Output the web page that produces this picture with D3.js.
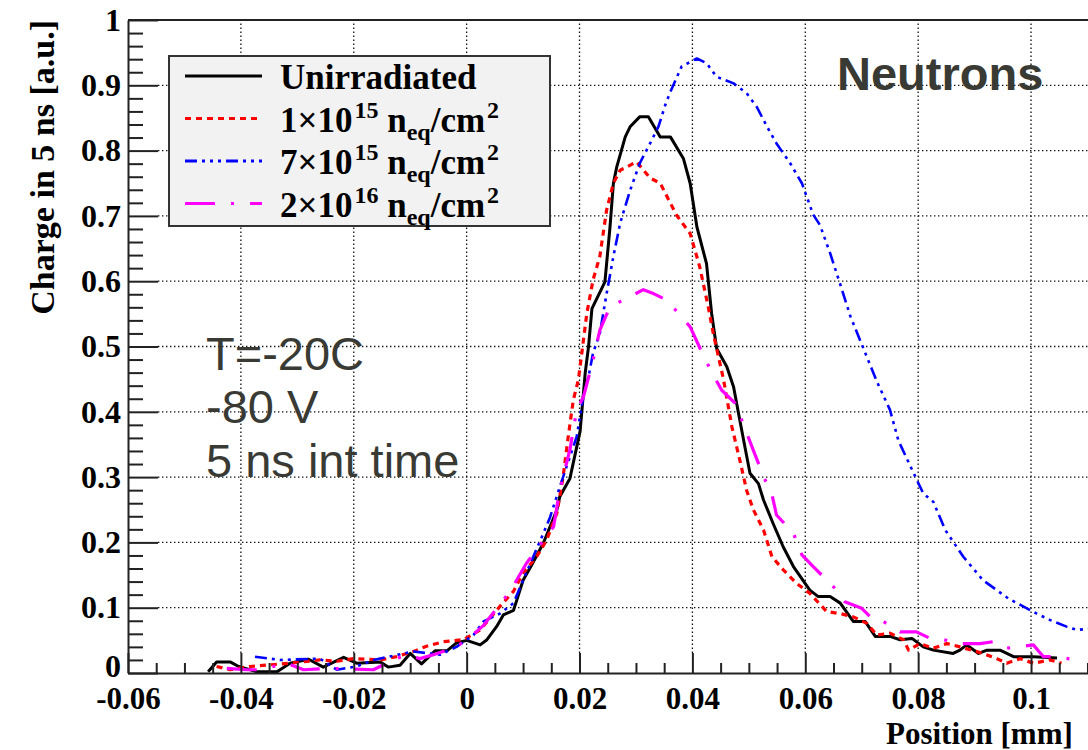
<!DOCTYPE html>
<html>
<head>
<meta charset="utf-8">
<script src="https://cdn.jsdelivr.net/npm/d3@7"></script>
<style>
body { margin: 0; background: #fff; }
</style>
</head>
<body>
<div id="chart"></div>
<script>
// ---- data: [position (mm), charge (a.u.)] ----
var unirradiated = [[-0.0458,0.002],[-0.0443,0.017],[-0.0419,0.017],[-0.0404,0.010],[-0.0372,0.002],[-0.0336,0.002],[-0.0313,0.015],[-0.0280,0.021],[-0.0254,0.009],[-0.0218,0.024],[-0.0195,0.015],[-0.0153,0.017],[-0.0139,0.009],[-0.0118,0.012],[-0.0100,0.030],[-0.0080,0.014],[-0.0056,0.034],[-0.0035,0.034],[-0.0018,0.046],[0.0000,0.050],[0.0024,0.043],[0.0036,0.051],[0.0053,0.071],[0.0065,0.089],[0.0083,0.096],[0.0089,0.112],[0.0100,0.142],[0.0115,0.165],[0.0136,0.199],[0.0160,0.250],[0.0165,0.270],[0.0183,0.298],[0.0201,0.370],[0.0210,0.459],[0.0216,0.500],[0.0222,0.558],[0.0245,0.599],[0.0254,0.683],[0.0260,0.750],[0.0266,0.775],[0.0281,0.821],[0.0290,0.837],[0.0307,0.852],[0.0322,0.852],[0.0343,0.821],[0.0361,0.821],[0.0384,0.788],[0.0396,0.750],[0.0408,0.683],[0.0425,0.627],[0.0434,0.551],[0.0443,0.497],[0.0461,0.469],[0.0473,0.438],[0.0484,0.387],[0.0502,0.306],[0.0517,0.290],[0.0526,0.265],[0.0543,0.229],[0.0561,0.193],[0.0579,0.163],[0.0608,0.127],[0.0623,0.117],[0.0644,0.117],[0.0662,0.107],[0.0685,0.079],[0.0706,0.079],[0.0724,0.056],[0.0750,0.056],[0.0768,0.051],[0.0789,0.053],[0.0809,0.040],[0.0827,0.035],[0.0862,0.030],[0.0874,0.035],[0.0886,0.043],[0.0907,0.030],[0.0922,0.035],[0.0945,0.035],[0.0969,0.025],[0.1004,0.025],[0.1046,0.023]];

var neq1e15 = [[-0.0443,0.010],[-0.0419,0.005],[-0.0384,0.010],[-0.0313,0.015],[-0.0260,0.020],[-0.0230,0.018],[-0.0201,0.022],[-0.0153,0.020],[-0.0124,0.025],[-0.0094,0.033],[-0.0071,0.041],[-0.0041,0.048],[-0.0006,0.051],[0.0024,0.066],[0.0059,0.102],[0.0083,0.125],[0.0100,0.153],[0.0124,0.178],[0.0142,0.204],[0.0160,0.245],[0.0171,0.301],[0.0180,0.362],[0.0189,0.418],[0.0198,0.449],[0.0213,0.551],[0.0224,0.602],[0.0236,0.638],[0.0248,0.709],[0.0260,0.750],[0.0272,0.770],[0.0284,0.775],[0.0301,0.783],[0.0325,0.758],[0.0343,0.750],[0.0372,0.701],[0.0396,0.673],[0.0413,0.622],[0.0428,0.561],[0.0437,0.520],[0.0455,0.450],[0.0470,0.377],[0.0484,0.326],[0.0496,0.280],[0.0508,0.250],[0.0526,0.219],[0.0541,0.178],[0.0561,0.158],[0.0585,0.137],[0.0608,0.122],[0.0638,0.094],[0.0662,0.091],[0.0685,0.086],[0.0709,0.076],[0.0727,0.058],[0.0750,0.061],[0.0774,0.051],[0.0783,0.035],[0.0803,0.045],[0.0827,0.038],[0.0851,0.045],[0.0874,0.040],[0.0915,0.030],[0.0939,0.022],[0.0957,0.015],[0.0981,0.022],[0.1004,0.015],[0.1034,0.020],[0.1054,0.015]];

var neq7e15 = [[-0.0375,0.025],[-0.0331,0.020],[-0.0260,0.022],[-0.0230,0.005],[-0.0195,0.010],[-0.0165,0.020],[-0.0094,0.033],[-0.0047,0.028],[-0.0018,0.040],[0.0012,0.058],[0.0030,0.079],[0.0059,0.091],[0.0083,0.107],[0.0100,0.142],[0.0118,0.178],[0.0136,0.214],[0.0148,0.239],[0.0165,0.285],[0.0195,0.362],[0.0207,0.425],[0.0216,0.454],[0.0224,0.490],[0.0236,0.520],[0.0248,0.581],[0.0260,0.638],[0.0272,0.689],[0.0290,0.740],[0.0307,0.781],[0.0325,0.811],[0.0340,0.837],[0.0352,0.870],[0.0360,0.888],[0.0381,0.929],[0.0408,0.941],[0.0425,0.934],[0.0443,0.913],[0.0473,0.903],[0.0496,0.888],[0.0514,0.867],[0.0532,0.837],[0.0549,0.811],[0.0573,0.781],[0.0594,0.750],[0.0614,0.702],[0.0626,0.686],[0.0644,0.643],[0.0662,0.595],[0.0680,0.546],[0.0703,0.497],[0.0727,0.446],[0.0750,0.403],[0.0765,0.356],[0.0791,0.308],[0.0809,0.275],[0.0827,0.262],[0.0848,0.219],[0.0880,0.178],[0.0915,0.142],[0.0960,0.114],[0.1010,0.091],[0.1034,0.081],[0.1063,0.071],[0.1081,0.066],[0.1108,0.068]];

var neq2e16 = [[-0.0425,0.007],[-0.0390,0.005],[-0.0366,0.005],[-0.0319,0.015],[-0.0289,0.005],[-0.0242,0.007],[-0.0165,0.005],[-0.0130,0.020],[-0.0106,0.028],[-0.0083,0.022],[-0.0059,0.028],[-0.0024,0.038],[0.0000,0.050],[0.0030,0.073],[0.0077,0.125],[0.0106,0.168],[0.0154,0.224],[0.0165,0.280],[0.0183,0.342],[0.0195,0.403],[0.0207,0.423],[0.0224,0.479],[0.0236,0.525],[0.0254,0.561],[0.0284,0.574],[0.0313,0.587],[0.0331,0.581],[0.0355,0.571],[0.0396,0.530],[0.0419,0.487],[0.0434,0.461],[0.0452,0.433],[0.0476,0.413],[0.0508,0.341],[0.0526,0.301],[0.0541,0.273],[0.0549,0.242],[0.0579,0.214],[0.0594,0.181],[0.0614,0.163],[0.0650,0.132],[0.0670,0.109],[0.0700,0.099],[0.0721,0.081],[0.0738,0.079],[0.0768,0.063],[0.0797,0.063],[0.0821,0.053],[0.0845,0.051],[0.0874,0.045],[0.0910,0.045],[0.0933,0.048],[0.0957,0.038],[0.1004,0.043],[0.1022,0.025],[0.1043,0.025],[0.1081,0.020]];

var xTicks = [-0.06, -0.04, -0.02, 0, 0.02, 0.04, 0.06, 0.08, 0.1];
var xTickLabels = ["-0.06", "-0.04", "-0.02", "0", "0.02", "0.04", "0.06", "0.08", "0.1"];
var yTicks = [0, 0.1, 0.2, 0.3, 0.4, 0.5, 0.6, 0.7, 0.8, 0.9, 1];
var yTickLabels = ["0", "0.1", "0.2", "0.3", "0.4", "0.5", "0.6", "0.7", "0.8", "0.9", "1"];

var notes = ["T=-20C", "-80 V", "5 ns int time"];
///-----------------------------------------------------------------

var W = 1088, H = 750;
var serif = "'Liberation Serif', 'Times New Roman', serif";
var sans = "'Liberation Sans', Arial, sans-serif";

var svg = d3.select("#chart")
    .append("svg")
    .attr("width", W)
    .attr("height", H);

// scales (frame continues past the right edge of the picture)
var x = d3.scaleLinear()
    .domain([-0.06, 0.12])
    .range([128, 128 + 0.18 * 5644]);

var y = d3.scaleLinear()
    .domain([0, 1])
    .range([673, 20]);

// dotted grid
var grid = svg.append("g")
    .attr("stroke", "#111")
    .attr("stroke-width", 1.3)
    .attr("stroke-dasharray", "1.4,2.6");

grid.selectAll(".vg")
    .data(xTicks.slice(1))
    .enter().append("line")
    .attr("x1", d => x(d)).attr("x2", d => x(d))
    .attr("y1", y(0) - 20).attr("y2", y(1));

grid.selectAll(".hg")
    .data(yTicks.slice(1, -1))
    .enter().append("line")
    .attr("x1", x(-0.06) + 30).attr("x2", W)
    .attr("y1", d => y(d)).attr("y2", d => y(d));

// curves
var line = d3.line()
    .x(function (d) { return x(d[0]) })
    .y(function (d) { return y(d[1]) });

var series = [
    { data: unirradiated, color: "#000000", width: 3, dash: null },
    { data: neq1e15, color: "#ff0000", width: 3.2, dash: "6,5" },
    { data: neq7e15, color: "#0000ff", width: 2.6, dash: "12,5,3,5,3,5,3,5" },
    { data: neq2e16, color: "#ff00ff", width: 3.2, dash: "30,16,3,16" }
];

series.forEach(function (s) {
    svg.append("path")
        .datum(s.data)
        .attr("fill", "none")
        .attr("stroke", s.color)
        .attr("stroke-width", s.width)
        .attr("stroke-dasharray", s.dash)
        .attr("stroke-linejoin", "round")
        .attr("d", line);
});

// frame top
svg.append("line")
    .attr("x1", x(-0.06)).attr("x2", W)
    .attr("y1", y(1)).attr("y2", y(1))
    .attr("stroke", "#222").attr("stroke-width", 2);

// X axis
var xMinor = d3.range(0, 37).map(i => -0.06 + i * 0.005).filter(v => Math.abs(Math.round(v / 0.02) * 0.02 - v) > 1e-6);

var gx = svg.append("g")
    .attr("transform", "translate(0," + y(0) + ")")
    .call(d3.axisBottom(x).tickValues(xTicks).tickSize(-20).tickSizeOuter(0).tickPadding(14)
        .tickFormat((d, i) => xTickLabels[i]));

svg.append("g")
    .attr("transform", "translate(0," + y(0) + ")")
    .call(d3.axisBottom(x).tickValues(xMinor).tickSize(-10).tickFormat(""))
    .call(g => g.select(".domain").remove());

// Y axis
var yMinor = d3.range(0, 51).map(i => i * 0.02).filter((v, i) => i % 5 != 0);

var gy = svg.append("g")
    .attr("transform", "translate(" + x(-0.06) + ",0)")
    .call(d3.axisLeft(y).tickValues(yTicks).tickSize(-30).tickSizeOuter(0).tickPadding(7)
        .tickFormat((d, i) => yTickLabels[i]));

svg.append("g")
    .attr("transform", "translate(" + x(-0.06) + ",0)")
    .call(d3.axisLeft(y).tickValues(yMinor).tickSize(-15).tickFormat(""))
    .call(g => g.select(".domain").remove());

svg.selectAll(".domain, .tick line")
    .attr("stroke", "#222")
    .attr("stroke-width", 2);

gx.selectAll("text")
    .attr("font-family", serif).attr("font-weight", "bold")
    .attr("font-size", 31).attr("fill", "#000");
gy.selectAll("text")
    .attr("font-family", serif).attr("font-weight", "bold")
    .attr("font-size", 32).attr("fill", "#000");
// the "0" label sits just above "-0.06", as in the original
gy.selectAll(".tick").filter(d => d == 0).select("text").attr("dy", "0.1em");

// axis titles
svg.append("text")
    .attr("x", 886).attr("y", 744)
    .attr("font-family", serif).attr("font-weight", "bold").attr("font-size", 31)
    .text("Position [mm]");

svg.append("text")
    .attr("transform", "translate(54,20) rotate(-90)")
    .attr("text-anchor", "end")
    .attr("font-family", serif).attr("font-weight", "bold").attr("font-size", 34)
    .text("Charge in 5 ns [a.u.]");

// legend
var legend = svg.append("g");
legend.append("rect")
    .attr("x", 169).attr("y", 56)
    .attr("width", 381).attr("height", 170)
    .attr("fill", "#f2f2f2")
    .attr("stroke", "#333").attr("stroke-width", 2);

var legendRows = [
    [{ t: "Unirradiated" }],
    [{ t: "1×10" }, { t: "15", s: "sup" }, { t: " n" }, { t: "eq", s: "sub" }, { t: "/cm" }, { t: "2", s: "sup" }],
    [{ t: "7×10" }, { t: "15", s: "sup" }, { t: " n" }, { t: "eq", s: "sub" }, { t: "/cm" }, { t: "2", s: "sup" }],
    [{ t: "2×10" }, { t: "16", s: "sup" }, { t: " n" }, { t: "eq", s: "sub" }, { t: "/cm" }, { t: "2", s: "sup" }]
];
var rowY = [76, 118.5, 161, 203.5];

legendRows.forEach(function (parts, i) {
    var s = series[i];
    legend.append("line")
        .attr("x1", 185).attr("x2", 262)
        .attr("y1", rowY[i]).attr("y2", rowY[i])
        .attr("stroke", s.color)
        .attr("stroke-width", 3.2)
        .attr("stroke-dasharray", s.dash);

    var t = legend.append("text")
        .attr("x", 280).attr("y", rowY[i] + 13)
        .attr("font-family", serif).attr("font-weight", "bold").attr("font-size", 35);
    var shift = 0;
    parts.forEach(function (p) {
        var target = p.s == "sup" ? -14 : (p.s == "sub" ? 8 : 0);
        t.append("tspan")
            .attr("dy", target - shift)
            .attr("dx", p.s == "sup" ? 2 : 0)
            .attr("font-size", p.s ? 24 : 35)
            .text(p.t);
        shift = target;
    });
});

// annotations
svg.append("text")
    .attr("x", 837).attr("y", 90)
    .attr("font-family", sans).attr("font-weight", "bold").attr("font-size", 47)
    .attr("fill", "#3a3a35")
    .text("Neutrons");

svg.selectAll(".note")
    .data(notes)
    .enter().append("text")
    .attr("x", 206)
    .attr("y", (d, i) => 370 + i * 53.3)
    .attr("font-family", sans).attr("font-size", 47)
    .attr("fill", "#3a3a35")
    .text(d => d);
</script>
</body>
</html>
